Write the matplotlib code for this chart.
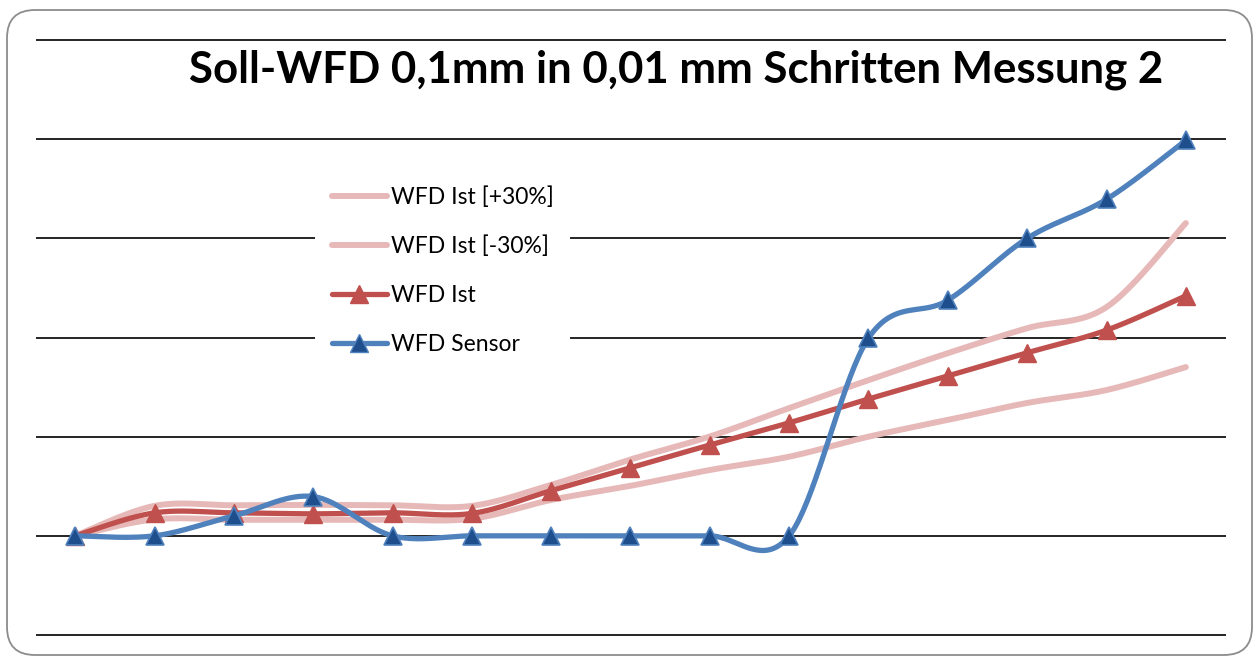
import numpy as np
import matplotlib
matplotlib.use("Agg")
import matplotlib.pyplot as plt
from matplotlib.patches import FancyBboxPatch
from matplotlib.lines import Line2D

# ---------------- data (mm) ----------------
steps = list(range(15))
wfd_plus30 = [0.0, 0.0151, 0.0154, 0.0156, 0.0154, 0.0151, 0.0257, 0.0385, 0.0501,
              0.0644, 0.0785, 0.0921, 0.1047, 0.1153, 0.1577]
wfd_minus30 = [0.0, 0.0083, 0.0081, 0.0081, 0.0081, 0.0086, 0.0181, 0.0252, 0.0332,
               0.0399, 0.0500, 0.0584, 0.0670, 0.0735, 0.0851]
wfd_ist = [0.0, 0.0116, 0.0116, 0.0111, 0.0116, 0.0113, 0.0228, 0.0344, 0.0458,
           0.0570, 0.0690, 0.0806, 0.0923, 0.1037, 0.1210]
wfd_sensor = [0.0, 0.0, 0.0101, 0.0198, 0.0, 0.0, 0.0, 0.0, 0.0, 0.0,
              0.0997, 0.1188, 0.1500, 0.1697, 0.1994]
labels = ["WFD Ist [+30%]", "WFD Ist [-30%]", "WFD Ist", "WFD Sensor"]
title = "Soll-WFD 0,1mm in 0,01 mm Schritten Messung 2"
grid_values = [-0.05, 0.0, 0.05, 0.10, 0.15, 0.20, 0.25]

PINK = "#E6B9B8"
RED = "#C0504D"
BLUE = "#4F81BD"
BLUE_DARK = "#1F4E8C"


def smooth(x, y, n=40):
    """Excel-like smoothed line (Catmull-Rom cubic Bezier)."""
    pts = np.column_stack([np.asarray(x, float), np.asarray(y, float)])
    P = np.vstack([pts[0], pts, pts[-1]])
    t = np.linspace(0, 1, n)[:, None]
    out = []
    for i in range(len(pts) - 1):
        p0, p1, p2, p3 = P[i], P[i + 1], P[i + 2], P[i + 3]
        c1 = p1 + (p2 - p0) / 6.0
        c2 = p2 - (p3 - p1) / 6.0
        seg = ((1 - t) ** 3) * p1 + 3 * ((1 - t) ** 2) * t * c1 + 3 * (1 - t) * t ** 2 * c2 + t ** 3 * p2
        out.append(seg if i == 0 else seg[1:])
    s = np.vstack(out)
    return s[:, 0], s[:, 1]


W, H = 1253, 657
fig = plt.figure(figsize=(W / 100, H / 100), dpi=100)
plt.rcParams['font.family'] = ['Lato', 'DejaVu Sans']

# axes placement (pixel based)
ymin, ymax = -0.05, 0.25
px_top, px_bot = 40.0, 635.0
pad = 0.0006
scale = (px_bot - px_top) / (ymax - ymin)
ax_top = px_top - pad * scale
ax_bot = px_bot + pad * scale
ax_left, ax_right = 35.5, 1225.5
ax = fig.add_axes([ax_left / W, 1 - ax_bot / H, (ax_right - ax_left) / W, (ax_bot - ax_top) / H])
ax.set_xlim(-0.5, len(steps) - 0.5)
ax.set_ylim(ymin - pad, ymax + pad)
for s in ax.spines.values():
    s.set_visible(False)
ax.set_xticks([])
ax.set_yticks(grid_values)
ax.tick_params(axis='y', length=0, labelleft=False)
ax.yaxis.grid(True, color="black", linewidth=1.2)
ax.set_axisbelow(True)
ax.patch.set_alpha(0)

# series
lw_pink = 4.3
lw_main = 3.8
ms = 13.5

xs, ys = smooth(steps, wfd_plus30)
ax.plot(xs, ys, color=PINK, lw=lw_pink, solid_capstyle='round', zorder=2)
xs, ys = smooth(steps, wfd_minus30)
ax.plot(xs, ys, color=PINK, lw=lw_pink, solid_capstyle='round', zorder=2)
xs, ys = smooth(steps, wfd_ist)
ax.plot(xs, ys, color=RED, lw=lw_main, solid_capstyle='round', zorder=3)
ax.plot(steps, wfd_ist, ls='none', marker='^', ms=ms, mfc=RED, mec=RED, mew=1, zorder=4)
xs, ys = smooth(steps, wfd_sensor)
ax.plot(xs, ys, color=BLUE, lw=lw_main, solid_capstyle='round', zorder=5)
ax.plot(steps, wfd_sensor, ls='none', marker='^', ms=ms, mfc=BLUE_DARK, mec=BLUE, mew=1.2, zorder=6)

# legend
handles = [
    Line2D([], [], color=PINK, lw=lw_pink, solid_capstyle='round'),
    Line2D([], [], color=PINK, lw=lw_pink, solid_capstyle='round'),
    Line2D([], [], color=RED, lw=lw_main, marker='^', ms=ms, mfc=RED, mec=RED, solid_capstyle='round'),
    Line2D([], [], color=BLUE, lw=lw_main, marker='^', ms=ms, mfc=BLUE_DARK, mec=BLUE, solid_capstyle='round'),
]
fs = 16.5
fs_px = fs * 100 / 72
leg = ax.legend(handles, labels, loc='upper left',
                bbox_to_anchor=(315 / W, 1 - 170 / H), bbox_transform=fig.transFigure,
                fontsize=fs, frameon=True, fancybox=False, framealpha=1,
                facecolor='white', edgecolor='none', borderaxespad=0,
                borderpad=0.72, handlelength=55 / fs_px, handletextpad=0.2,
                labelspacing=1.21, numpoints=1)
leg.set_zorder(10)

# title
fig.text(676 / W, 1 - 70 / H, title, ha='center', va='center', fontsize=31.5,
         fontweight='bold', color='black')

# chart border (rounded)
border = FancyBboxPatch((7 / 100, 2 / 100), 1245 / 100, 645 / 100,
                        boxstyle="round,pad=0,rounding_size=0.28",
                        transform=fig.dpi_scale_trans, fill=False,
                        edgecolor="#8C8C8C", linewidth=1.3)
fig.patches.append(border)

fig.savefig("out.png", dpi=100)
